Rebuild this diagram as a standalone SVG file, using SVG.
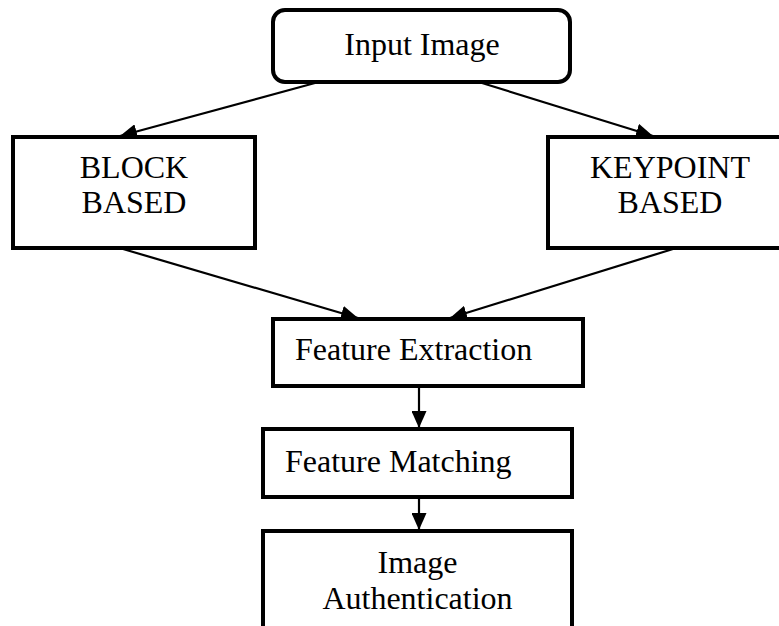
<svg xmlns="http://www.w3.org/2000/svg" width="779" height="626" viewBox="0 0 779 626">
  <style>
    .box { fill: #ffffff; stroke: #000000; stroke-width: 4; }
    .lbl { font-family: "Liberation Serif", "Times New Roman", serif; font-size: 32px; fill: #000000; }
    .mid { text-anchor: middle; }
    .edge { stroke: #000000; stroke-width: 2.2; fill: none; marker-end: url(#head); }
  </style>
  <defs>
    <marker id="head" viewBox="0 0 17 15" refX="17" refY="7.5" markerWidth="17" markerHeight="15" markerUnits="userSpaceOnUse" orient="auto">
      <path d="M0,0 L17,7.5 L0,15 Z" fill="#000000"/>
    </marker>
  </defs>
  <rect width="779" height="626" fill="#ffffff"/>

  <!-- connectors -->
  <g id="connectors">
    <line class="edge" x1="315" y1="83" x2="120" y2="136"/>
    <line class="edge" x1="482" y1="83" x2="653" y2="136"/>
    <line class="edge" x1="123" y1="249" x2="358" y2="318"/>
    <line class="edge" x1="673" y1="249" x2="450" y2="318"/>
    <line class="edge" x1="419" y1="387" x2="419" y2="428"/>
    <line class="edge" x1="419" y1="498" x2="419" y2="530"/>
  </g>

  <g id="input-image">
    <rect class="box" x="273" y="10" width="297" height="72" rx="12" ry="12"/>
    <text class="lbl mid" x="422" y="55">Input Image</text>
  </g>

  <g id="block-based">
    <rect class="box" x="13" y="137" width="242" height="111"/>
    <text class="lbl mid" x="134" y="178">BLOCK</text>
    <text class="lbl mid" x="134" y="213">BASED</text>
  </g>

  <g id="keypoint-based">
    <rect class="box" x="548" y="137" width="242" height="111"/>
    <text class="lbl mid" x="670" y="178">KEYPOINT</text>
    <text class="lbl mid" x="670" y="213">BASED</text>
  </g>

  <g id="feature-extraction">
    <rect class="box" x="273" y="319" width="310" height="67"/>
    <text class="lbl" x="295" y="360">Feature Extraction</text>
  </g>

  <g id="feature-matching">
    <rect class="box" x="263" y="429" width="309" height="68"/>
    <text class="lbl" x="285" y="472">Feature Matching</text>
  </g>

  <g id="image-authentication">
    <rect class="box" x="263" y="531" width="309" height="100"/>
    <text class="lbl mid" x="417.5" y="573">Image</text>
    <text class="lbl mid" x="417.5" y="609">Authentication</text>
  </g>
</svg>
